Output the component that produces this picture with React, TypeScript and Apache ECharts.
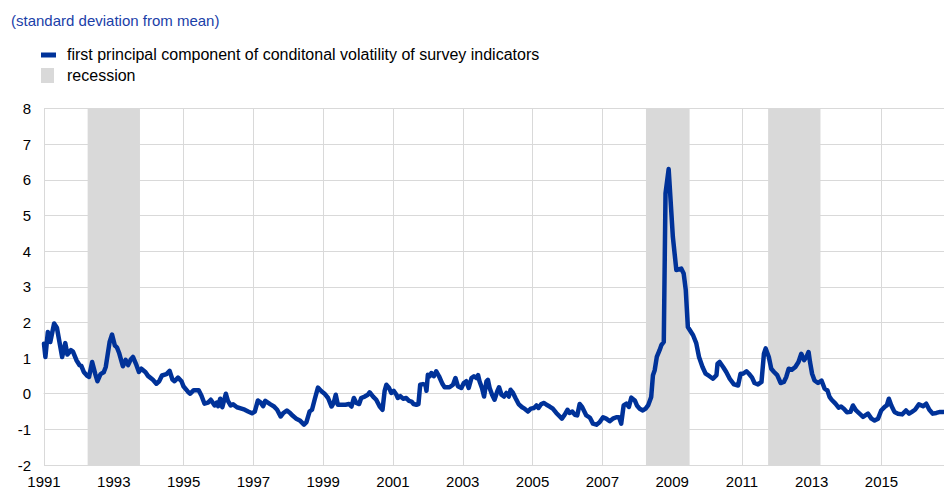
import React, { useEffect, useRef } from "react";
import * as echarts from "echarts";

// decimal years of the readings and values (standard deviations from mean)
const dates: number[] = [
  1991.0, 1991.04, 1991.11, 1991.18, 1991.29, 1991.37, 1991.52, 1991.61, 1991.67, 1991.77,
  1991.83, 1991.93, 1992.02, 1992.07, 1992.14, 1992.23, 1992.29, 1992.38, 1992.47, 1992.53,
  1992.62, 1992.71, 1992.77, 1992.88, 1992.95, 1993.03, 1993.09, 1993.15, 1993.26, 1993.34,
  1993.41, 1993.48, 1993.55, 1993.65, 1993.72, 1993.79, 1993.91, 1993.98, 1994.12, 1994.22,
  1994.3, 1994.38, 1994.51, 1994.6, 1994.68, 1994.74, 1994.84, 1994.94, 1995.0, 1995.13,
  1995.19, 1995.29, 1995.43, 1995.51, 1995.6, 1995.7, 1995.78, 1995.89, 1995.95, 1995.99,
  1996.05, 1996.11, 1996.21, 1996.27, 1996.35, 1996.42, 1996.53, 1996.66, 1996.75, 1996.85,
  1996.96, 1997.04, 1997.13, 1997.21, 1997.28, 1997.34, 1997.49, 1997.58, 1997.68, 1997.78,
  1997.85, 1997.96, 1998.06, 1998.13, 1998.23, 1998.33, 1998.4, 1998.45, 1998.52, 1998.61,
  1998.68, 1998.76, 1998.85, 1998.95, 1999.04, 1999.14, 1999.24, 1999.3, 1999.36, 1999.42,
  1999.52, 1999.64, 1999.74, 1999.81, 1999.88, 1999.95, 2000.03, 2000.09, 2000.19, 2000.28,
  2000.33, 2000.43, 2000.52, 2000.62, 2000.7, 2000.76, 2000.81, 2000.89, 2000.95, 2001.02,
  2001.1, 2001.14, 2001.21, 2001.29, 2001.38, 2001.46, 2001.53, 2001.59, 2001.67, 2001.73,
  2001.78, 2001.86, 2001.93, 2001.96, 2002.0, 2002.05, 2002.1, 2002.17, 2002.24, 2002.32,
  2002.42, 2002.48, 2002.58, 2002.62, 2002.72, 2002.79, 2002.86, 2002.96, 2003.03, 2003.1,
  2003.17, 2003.25, 2003.32, 2003.39, 2003.44, 2003.48, 2003.55, 2003.61, 2003.68, 2003.72,
  2003.77, 2003.84, 2003.91, 2003.99, 2004.04, 2004.11, 2004.18, 2004.25, 2004.32, 2004.37,
  2004.44, 2004.51, 2004.6, 2004.7, 2004.77, 2004.87, 2004.95, 2005.04, 2005.11, 2005.17,
  2005.25, 2005.33, 2005.4, 2005.49, 2005.58, 2005.68, 2005.78, 2005.84, 2005.92, 2006.0,
  2006.06, 2006.14, 2006.21, 2006.28, 2006.35, 2006.42, 2006.54, 2006.64, 2006.73, 2006.83,
  2006.92, 2007.02, 2007.11, 2007.21, 2007.3, 2007.4, 2007.48, 2007.54, 2007.61, 2007.69,
  2007.76, 2007.83, 2007.93, 2007.99, 2008.07, 2008.16, 2008.24, 2008.31, 2008.4, 2008.45,
  2008.5, 2008.56, 2008.64, 2008.69, 2008.76, 2008.81, 2008.9, 2009.02, 2009.12, 2009.26,
  2009.33, 2009.39, 2009.45, 2009.6, 2009.69, 2009.77, 2009.87, 2009.96, 2010.07, 2010.17,
  2010.27, 2010.3, 2010.36, 2010.46, 2010.55, 2010.65, 2010.77, 2010.89, 2010.96, 2011.03,
  2011.13, 2011.2, 2011.29, 2011.36, 2011.46, 2011.56, 2011.63, 2011.68, 2011.77, 2011.84,
  2011.92, 2012.01, 2012.11, 2012.2, 2012.27, 2012.34, 2012.43, 2012.53, 2012.62, 2012.7,
  2012.78, 2012.85, 2012.91, 2012.95, 2013.01, 2013.08, 2013.18, 2013.28, 2013.37, 2013.45,
  2013.51, 2013.57, 2013.68, 2013.77, 2013.84, 2013.92, 2014.01, 2014.11, 2014.18, 2014.27,
  2014.37, 2014.47, 2014.61, 2014.71, 2014.8, 2014.9, 2014.99, 2015.09, 2015.15, 2015.21,
  2015.28, 2015.37, 2015.47, 2015.59, 2015.7, 2015.79, 2015.87, 2015.96, 2016.07, 2016.19,
  2016.28, 2016.37, 2016.47, 2016.57, 2016.68, 2016.78,
];

const values: number[] = [
  1.4, 1.03, 1.73, 1.45, 1.97, 1.85, 1.03, 1.42, 1.1, 1.22,
  1.18, 0.94, 0.8, 0.78, 0.61, 0.51, 0.47, 0.89, 0.55, 0.35,
  0.55, 0.6, 0.75, 1.45, 1.66, 1.35, 1.3, 1.15, 0.77, 0.95,
  0.8, 0.95, 1.03, 0.8, 0.61, 0.7, 0.6, 0.5, 0.39, 0.28,
  0.35, 0.51, 0.55, 0.64, 0.4, 0.35, 0.45, 0.35, 0.2, 0.05,
  0.0, 0.1, 0.1, -0.05, -0.28, -0.25, -0.17, -0.33, -0.25, -0.35,
  -0.14, -0.38, 0.0, -0.2, -0.33, -0.3, -0.38, -0.42, -0.45, -0.5,
  -0.55, -0.5, -0.19, -0.25, -0.35, -0.2, -0.3, -0.35, -0.45, -0.64,
  -0.55, -0.47, -0.55, -0.62, -0.7, -0.75, -0.82, -0.87, -0.8, -0.5,
  -0.45, -0.15, 0.17, 0.07, 0.0, -0.12, -0.36, -0.26, -0.03, -0.31,
  -0.31, -0.31, -0.29, -0.36, -0.12, -0.26, -0.29, -0.12, -0.08, -0.03,
  0.04, -0.08, -0.17, -0.36, -0.45, 0.07, 0.25, 0.16, 0.02, 0.08,
  -0.03, -0.12, -0.07, -0.14, -0.12, -0.2, -0.22, -0.29, -0.31, -0.29,
  0.25, 0.27, 0.25, 0.08, 0.53, 0.49, 0.58, 0.49, 0.63, 0.49,
  0.27, 0.18, 0.18, 0.18, 0.25, 0.44, 0.21, 0.16, 0.3, 0.35,
  0.16, 0.44, 0.49, 0.44, 0.52, 0.35, 0.16, -0.08, 0.35, 0.39,
  0.16, -0.03, -0.17, 0.07, 0.18, -0.03, -0.08, 0.02, -0.08, 0.11,
  0.02, -0.12, -0.29, -0.38, -0.42, -0.5, -0.42, -0.4, -0.33, -0.4,
  -0.29, -0.26, -0.31, -0.36, -0.42, -0.54, -0.64, -0.7, -0.59, -0.45,
  -0.54, -0.5, -0.59, -0.61, -0.29, -0.37, -0.61, -0.67, -0.84, -0.87,
  -0.8, -0.66, -0.7, -0.77, -0.7, -0.66, -0.66, -0.84, -0.33, -0.28,
  -0.37, -0.11, -0.19, -0.33, -0.42, -0.47, -0.42, -0.33, -0.09, 0.52,
  0.66, 1.03, 1.22, 1.36, 1.45, 5.62, 6.3, 4.4, 3.47, 3.51,
  3.37, 2.91, 1.87, 1.64, 1.42, 1.03, 0.75, 0.56, 0.49, 0.42,
  0.52, 0.84, 0.89, 0.75, 0.61, 0.42, 0.26, 0.23, 0.56, 0.56,
  0.63, 0.56, 0.45, 0.3, 0.26, 0.33, 1.12, 1.27, 1.03, 0.7,
  0.61, 0.52, 0.3, 0.33, 0.47, 0.7, 0.67, 0.75, 0.89, 1.12,
  0.94, 1.03, 1.17, 0.89, 0.56, 0.37, 0.3, 0.37, 0.14, 0.09,
  -0.09, -0.17, -0.28, -0.39, -0.36, -0.42, -0.52, -0.51, -0.33, -0.47,
  -0.56, -0.65, -0.56, -0.7, -0.75, -0.7, -0.47, -0.37, -0.33, -0.14,
  -0.33, -0.51, -0.56, -0.58, -0.47, -0.56, -0.51, -0.45, -0.3, -0.35,
  -0.28, -0.45, -0.56, -0.54, -0.51, -0.51,
];

const recessionStart: number[] = [1992.25, 2008.25, 2011.75];
const recessionEnd: number[] = [1993.75, 2009.5, 2013.25];

const yTicks: number[] = [-2, -1, 0, 1, 2, 3, 4, 5, 6, 7, 8];
const seriesName = "first principal component of conditonal volatility of survey indicators";
const recessionName = "recession";
const unitLabel = "(standard deviation from mean)";

const BASE_YEAR = 1991;
const END_YEAR = 2016.79;

const FONT = "'Liberation Sans', Arial, sans-serif";
const BLUE = "#003299";
const GREY = "#d9d9d9";

export default function App() {
  const ref = useRef<HTMLDivElement>(null);
  useEffect(() => {
    if (!ref.current) return;
    const chart = echarts.init(ref.current, null, { renderer: "svg" });
    const lineData = dates.map((d, i) => [d - BASE_YEAR, values[i]]);
    const areas = recessionStart.map((s, i) => [
      { xAxis: s - BASE_YEAR },
      { xAxis: recessionEnd[i] - BASE_YEAR },
    ]);
    chart.setOption({
      animation: false,
      backgroundColor: "#ffffff",
      textStyle: { fontFamily: FONT },
      grid: { left: 44, right: 0, top: 108.5, bottom: 27, containLabel: false },
      xAxis: {
        type: "value",
        min: 0,
        max: END_YEAR - BASE_YEAR,
        interval: 2,
        axisLine: { show: true, lineStyle: { color: GREY, width: 1 } },
        axisTick: { show: false },
        splitLine: { show: true, lineStyle: { color: GREY, width: 1 } },
        axisLabel: {
          color: "#000",
          fontSize: 15,
          fontFamily: FONT,
          margin: 9,
          showMaxLabel: false,
          formatter: (v: number) =>
            Math.abs(v - Math.round(v)) < 1e-6 && Math.round(v) % 2 === 0
              ? String(BASE_YEAR + Math.round(v))
              : "",
        },
      },
      yAxis: {
        type: "value",
        min: yTicks[0],
        max: yTicks[yTicks.length - 1],
        interval: 1,
        axisLine: { show: true, lineStyle: { color: GREY, width: 1 } },
        axisTick: { show: false },
        splitLine: { show: true, lineStyle: { color: GREY, width: 1 } },
        axisLabel: { color: "#000", fontSize: 15, fontFamily: FONT, margin: 13 },
      },
      graphic: [
        {
          type: "text",
          left: 11,
          top: 13,
          style: { text: unitLabel, fill: "#1a40a8", fontSize: 15, fontFamily: FONT },
        },
        { type: "rect", shape: { x: 41, y: 52.5, width: 15, height: 5 }, style: { fill: BLUE } },
        {
          type: "text",
          left: 67,
          top: 46,
          style: { text: seriesName, fill: "#000", fontSize: 16, fontFamily: FONT },
        },
        { type: "rect", shape: { x: 41, y: 68, width: 13, height: 15 }, style: { fill: GREY } },
        {
          type: "text",
          left: 67,
          top: 67,
          style: { text: recessionName, fill: "#000", fontSize: 16, fontFamily: FONT },
        },
      ],
      series: [
        {
          name: recessionName,
          type: "line",
          data: [],
          z: 1,
          silent: true,
          markArea: {
            silent: true,
            itemStyle: { color: GREY, opacity: 1 },
            data: areas,
          },
        },
        {
          name: seriesName,
          type: "line",
          z: 3,
          data: lineData,
          showSymbol: false,
          symbol: "none",
          smooth: false,
          lineStyle: { color: BLUE, width: 4.5, join: "round", cap: "round" },
          clip: true,
        },
      ],
    });
    return () => chart.dispose();
  }, []);
  return (
    <div
      ref={ref}
      style={{ position: "fixed", left: 0, top: 0, width: 944, height: 492, background: "#fff" }}
    />
  );
}
